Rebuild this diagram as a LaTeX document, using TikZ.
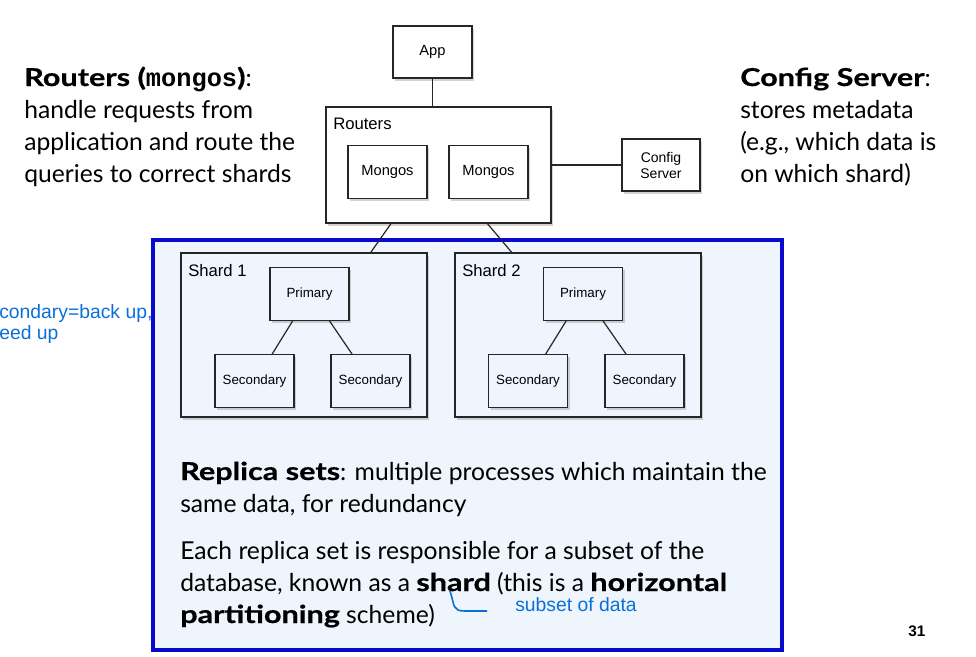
\documentclass[tikz,border=0pt]{standalone}
\usepackage{fontspec}
\setmainfont{Lato}[BoldFeatures={FakeStretch=1.24,FakeBold=0.6}]
\setsansfont{Liberation Sans}
\setmonofont{Liberation Mono}
\usetikzlibrary{shadows,calc}
\definecolor{panelblue}{HTML}{EEF5FD}
\definecolor{borderblue}{HTML}{0A0ACC}
\definecolor{noteblue}{HTML}{0B6FD8}
\begin{document}
\begin{tikzpicture}[x=0.75pt,y=-0.75pt]
        \tikzstyle{box}=[draw=black!85,line width=0.9pt,fill=white,inner sep=0pt,align=center,
          drop shadow={opacity=0.35,shadow xshift=1.5pt,shadow yshift=-2pt},
          font=\sffamily\fontsize{11}{13}\selectfont]
        \tikzstyle{member}=[box,fill=panelblue,minimum width=59.25pt,minimum height=39.5pt,font=\sffamily\fontsize{10}{12}\selectfont]
        \tikzstyle{edge}=[draw=black!85,line width=0.9pt]
        \tikzstyle{bigtext}=[anchor=base west,align=left,inner sep=0pt,font=\fontsize{18.5}{24}\selectfont]
        \tikzstyle{note}=[anchor=base west,align=left,inner sep=0pt,text=noteblue,font=\sffamily\fontsize{14.5}{15.75}\selectfont]
        \tikzstyle{boxlabel}=[anchor=north west,inner sep=0pt,font=\sffamily\fontsize{12.5}{14}\selectfont]
        \useasboundingbox (0,0) rectangle (976,657);
        % left note and headings (base = last line)
        \node [note] (secnote) at (-1,339) {condary=back up,\\eed up};
        \node [bigtext] (routerstext) at (24,182) {\textbf{Routers (}{\ttfamily\bfseries\fontsize{19}{24}\selectfont mongos}\textbf{)}:\\handle requests from\\application and route the\\queries to correct shards};
        \node [bigtext] (configtext) at (740,182) {\textbf{Config Server}:\\stores metadata\\(e.g., which data is\\on which shard)};
        % big panel with shards
        \node [draw=borderblue,line width=2.6pt,fill=panelblue,minimum width=471.75pt,minimum height=307.5pt] (panel) at (467.5,445) {};
        % routers tier
        \node [box,minimum width=59.25pt,minimum height=39pt] (app) at (432.5,52) {App};
        \node [box,minimum width=168.75pt,minimum height=87pt] (routers) at (438.5,165) {};
        \node [boxlabel] (routerslabel) at (333,118) {Routers};
        \node [box,minimum width=59.25pt,minimum height=39.75pt] (mongos1) at (387.5,172) {Mongos};
        \node [box,minimum width=59.25pt,minimum height=39.75pt] (mongos2) at (488.5,172) {Mongos};
        \node [box,minimum width=58.5pt,minimum height=39pt,font=\sffamily\fontsize{10.5}{12}\selectfont] (config) at (661,165) {Config\\Server};
        % shards
        \node [box,fill=panelblue,minimum width=184.5pt,minimum height=123pt] (shard1) at (304,335) {};
        \node [box,fill=panelblue,minimum width=184.5pt,minimum height=123pt] (shard2) at (578,335) {};
        \node [boxlabel] (shard1label) at (188,264) {Shard 1};
        \node [boxlabel] (shard2label) at (462,264) {Shard 2};
        \node [member] (prim1) at (309.5,294) {Primary};
        \node [member] (sec1a) at (254.5,381) {Secondary};
        \node [member] (sec1b) at (370.5,381) {Secondary};
        \node [member] (prim2) at (583,294) {Primary};
        \node [member] (sec2a) at (528,381) {Secondary};
        \node [member] (sec2b) at (644.5,381) {Secondary};
        % connectors
        \path[edge] (app.south) -- (app.south |- routers.north);
        \path[edge] (routers.east |- config.west) -- (config.west);
        \path[edge] ($(routers.south west)!0.29!(routers.south east)$) -- ($(shard1.north west)!0.77!(shard1.north east)$);
        \path[edge] ($(routers.south west)!0.716!(routers.south east)$) -- ($(shard2.north west)!0.232!(shard2.north east)$);
        \path[edge] ($(prim1.south west)!0.29!(prim1.south east)$) -- ($(sec1a.north west)!0.72!(sec1a.north east)$);
        \path[edge] ($(prim1.south west)!0.75!(prim1.south east)$) -- ($(sec1b.north west)!0.27!(sec1b.north east)$);
        \path[edge] ($(prim2.south west)!0.29!(prim2.south east)$) -- ($(sec2a.north west)!0.72!(sec2a.north east)$);
        \path[edge] ($(prim2.south west)!0.75!(prim2.south east)$) -- ($(sec2b.north west)!0.27!(sec2b.north east)$);
        % panel text (base = last line)
        \node [bigtext] (replicatext) at (180,512) {\textbf{Replica sets}: multiple processes which maintain the\\same data, for redundancy};
        \node [bigtext] (shardtext) at (180,623) {Each replica set is responsible for a subset of the\\database, known as a \textbf{shard} (this is a \textbf{horizontal}\\\textbf{partitioning} scheme)};
        \node [note] (subsetnote) at (515,611) {subset of data};
        \coordinate (shardword) at (450,591);
        \coordinate (curveend) at (487,611);
        \draw [noteblue,line width=1.2pt] (shardword) .. controls (455,606) and (452,611) .. (465,611) -- (curveend);
        \node [anchor=base west,inner sep=0pt,font=\sffamily\bfseries\fontsize{11.5}{13}\selectfont] (pagenum) at (908,636) {31};
\end{tikzpicture}
\end{document}
